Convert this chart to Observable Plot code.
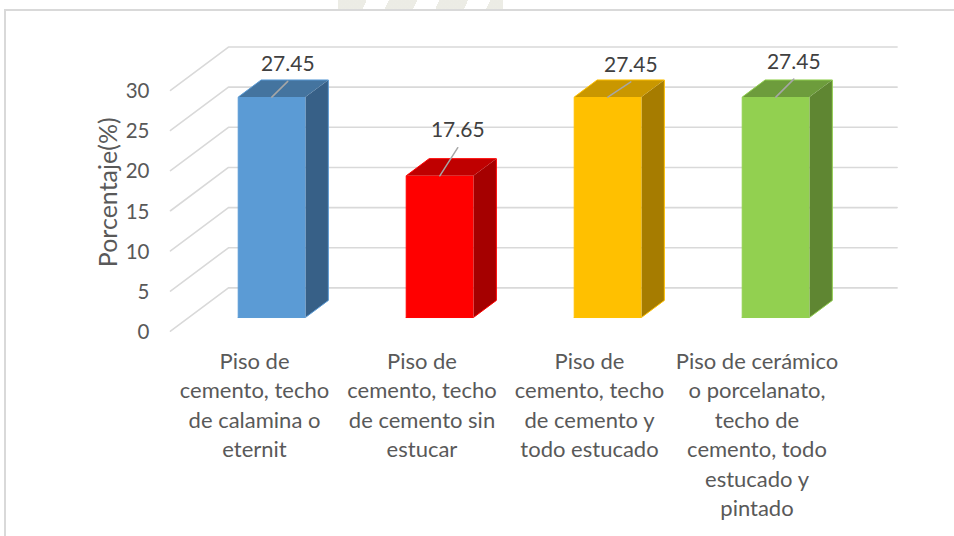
<!DOCTYPE html>
<html>
<head>
<meta charset="utf-8">
<script src="https://cdn.jsdelivr.net/npm/d3@7"></script>
<script src="https://cdn.jsdelivr.net/npm/@observablehq/plot@0.6"></script>
<style>
html,body{margin:0;padding:0;background:#fff;width:954px;height:536px;overflow:hidden}
#mark{position:absolute;left:338px;top:0;width:165px;height:9px;background:repeating-linear-gradient(115deg,#e4e4da 0 26px,#fff 26px 46px);opacity:.7}
#frame{position:absolute;left:4px;top:9px;width:950px;height:527px;border-top:2px solid #d9d9d9;border-left:2px solid #d9d9d9;box-sizing:border-box}
#chart{position:absolute;left:0;top:0}
</style>
</head>
<body>
<div id="mark"></div>
<div id="frame"></div>
<div id="chart"></div>
<script>
const categories = [
  "Piso de\ncemento, techo\nde calamina o\neternit",
  "Piso de\ncemento, techo\nde cemento sin\nestucar",
  "Piso de\ncemento, techo\nde cemento y\ntodo estucado",
  "Piso de cerámico\no porcelanato,\ntecho de\ncemento, todo\nestucado y\npintado"
];
const values = [27.45, 17.65, 27.45, 27.45];
const yTicks = [0, 5, 10, 15, 20, 25, 30];
const frontColors = ["#5B9BD5", "#FF0000", "#FFC000", "#92D050"];
const topColors = ["#44749F", "#BF0000", "#C99700", "#6D9C3C"];
const sideColors = ["#376087", "#A50000", "#A67C00", "#5F8632"];
// leader line run and rise, in scale units
const leaderRun = [0.095, 0.107, 0.137, 0.107];
const leaderRise = [1.96, 3.5, 1.9, 2.24];

// oblique projection: depth d (0..1) shifts a point right and up, in scale units
const depthX = 0.345, depthY = 5.39;
const px = (x, d) => x + d * depthX;
const py = (y, d) => y + d * depthY;
const barFrontDepth = 0.316, barBackDepth = 0.712, barHalf = 0.2, barCenter = 0.494, gridEnd = 3.98;

const poly = (id, pts, fill) => pts.concat([pts[0]]).map(([x, y, d]) => ({id, x: px(x, d), y: py(y, d), fill}));

const gridLines = yTicks.map(t => [
  {id: t, x: px(0, 0), y: py(t, 0)},
  {id: t, x: px(0, 1), y: py(t, 1)},
  {id: t, x: px(gridEnd, 1), y: py(t, 1)}
]).flat();

const faces = values.flatMap((v, i) => {
  const l = i + barCenter - barHalf, r = i + barCenter + barHalf, f = barFrontDepth, b = barBackDepth;
  return [
    ...poly(`s${i}`, [[r, 0, f], [r, 0, b], [r, v, b], [r, v, f]], sideColors[i]),
    ...poly(`t${i}`, [[l, v, f], [r, v, f], [r, v, b], [l, v, b]], topColors[i]),
    ...poly(`f${i}`, [[l, 0, f], [r, 0, f], [r, v, f], [l, v, f]], frontColors[i])
  ];
});
const edges = values.flatMap((v, i) => {
  const l = i + barCenter - barHalf, r = i + barCenter + barHalf, f = barFrontDepth, b = barBackDepth;
  return poly(`e${i}`, [[l, 0, f], [r, 0, f], [r, 0, b], [r, v, b], [l, v, b], [l, v, f]], frontColors[i]);
});
const leaders = values.flatMap((v, i) => {
  const x0 = px(i + barCenter, barFrontDepth), y0 = py(v, barFrontDepth);
  return [
    {id: i, x: x0, y: y0},
    {id: i, x: x0 + leaderRun[i], y: y0 + leaderRise[i]}
  ];
});
const dataLabels = values.map((v, i) => ({
  text: v.toFixed(2),
  x: px(i + barCenter, barFrontDepth) + leaderRun[i],
  y: py(v, barFrontDepth) + leaderRise[i]
}));

const font = "Lato, Carlito, sans-serif";
const ink = "#595959";

const plot = Plot.plot({
  width: 954,
  height: 536,
  marginLeft: 149,
  marginTop: 0, marginRight: 0, marginBottom: 0,
  style: {background: "transparent", fontFamily: font, overflow: "visible"},
  x: {domain: [0, 4], range: [170, 842], axis: null},
  y: {domain: [0, 30], range: [330.7, 89.8], axis: null},
  marks: [
    Plot.line(gridLines, {x: "x", y: "y", z: "id", stroke: "#D9D9D9", strokeWidth: 1.6}),
    Plot.axisY({ticks: yTicks, tickSize: 0, tickPadding: 0, label: null, fontSize: 20.5, color: ink, dy: 1.2, textStyle: null}),
    Plot.text(["Porcentaje(%)"], {
      x: () => -0.365, y: () => 17.3, text: d => d, rotate: -90, fontSize: 25, fill: ink
    }),
    Plot.line(faces, {x: "x", y: "y", z: "id", fill: "fill", stroke: "none"}),
    Plot.line(edges, {x: "x", y: "y", z: "id", stroke: "fill", strokeWidth: 1, curve: "linear"}),
    Plot.line(leaders, {x: "x", y: "y", z: "id", stroke: "#A6A6A6", strokeWidth: 1.5}),
    Plot.text(dataLabels, {x: "x", y: "y", text: "text", fontSize: 21, fill: "#404040", dy: -17}),
    Plot.text(categories, {
      x: (d, i) => i * 0.997 + 0.5, y: () => -2.05, text: d => d,
      lineAnchor: "top", lineHeight: 1.34, fontSize: 22, fill: ink
    })
  ]
});
document.getElementById("chart").append(plot);
</script>
</body>
</html>
